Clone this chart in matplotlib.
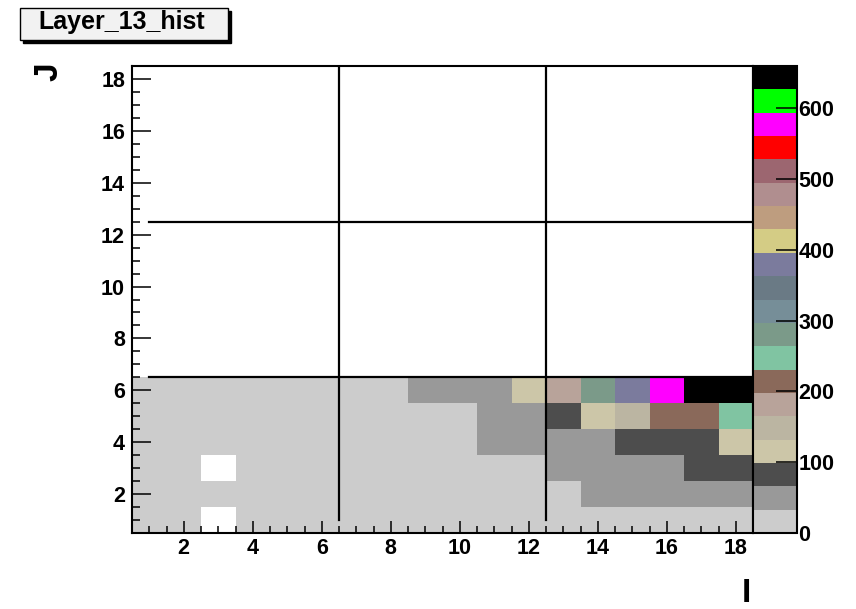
import numpy as np
import matplotlib.pyplot as plt
from matplotlib.colors import ListedColormap, BoundaryNorm
from matplotlib.patches import Rectangle
from matplotlib.ticker import MultipleLocator

plt.rcParams['font.family'] = ['Liberation Sans', 'DejaVu Sans']
plt.rcParams['font.weight'] = 'bold'

# bin contents, one list per J row (I = 1..18); rows 7..18 are empty
row_j1 = [18, 21, 0, 19, 22, 20, 17, 23, 24, 25, 26, 27, 28, 29, 30, 30, 31, 32]
row_j2 = [16, 19, 22, 20, 21, 23, 24, 25, 27, 28, 29, 30, 31, 36, 38, 40, 45, 50]
row_j3 = [17, 20, 0, 22, 23, 24, 25, 26, 27, 28, 30, 32, 40, 45, 52, 60, 75, 85]
row_j4 = [18, 20, 21, 23, 24, 25, 26, 28, 29, 31, 34, 37, 44, 50, 70, 80, 95, 120]
row_j5 = [19, 21, 22, 24, 25, 27, 28, 29, 30, 32, 36, 42, 78, 110, 150, 205, 220, 250]
row_j6 = [20, 22, 24, 25, 26, 28, 30, 31, 35, 40, 55, 112, 180, 280, 375, 580, 640, 659]

z_max = 659.6
cb_ticks = [0, 100, 200, 300, 400, 500, 600]

# old ROOT palette, 20 contour levels (bottom to top)
palette = ['#cccccc', '#999999', '#4d4d4d', '#ccc6a8', '#bbb5a2', '#b8a39a',
           '#8a695a', '#80c4a2', '#7b9a89', '#768e98', '#6a7a85', '#7b7b9d',
           '#d4cc85', '#be9d7f', '#b08e8f', '#9c6670', '#ff0000', '#ff00ff',
           '#00ff00', '#000000']

n = 18
z = np.zeros((n, n))
z[:6, :] = [row_j1, row_j2, row_j3, row_j4, row_j5, row_j6]
z = np.ma.masked_equal(z, 0)
edges = np.arange(0.5, n + 1, 1)

cmap = ListedColormap(palette)
norm = BoundaryNorm(np.linspace(0, z_max, len(palette) + 1), len(palette))

fig = plt.figure(figsize=(8.56, 6.09), dpi=100)
ax = fig.add_axes([132 / 856, 76 / 609, 621 / 856, 467 / 609])
cax = fig.add_axes([753 / 856, 76 / 609, 44 / 856, 467 / 609])

mesh = ax.pcolormesh(edges, edges, z, cmap=cmap, norm=norm)
ax.set_xlim(0.5, 18.5)
ax.set_ylim(0.5, 18.5)

# module boundaries
for v in [6.5, 12.5]:
    ax.plot([v, v], [1, 18.5], color='black', lw=1.6)
    ax.plot([1, 18.5], [v, v], color='black', lw=1.6)

ax.xaxis.set_major_locator(MultipleLocator(2))
ax.xaxis.set_minor_locator(MultipleLocator(0.5))
ax.yaxis.set_major_locator(MultipleLocator(2))
ax.yaxis.set_minor_locator(MultipleLocator(0.5))
ax.tick_params(which='both', direction='in', top=False, right=False, width=1.1,
               labelsize=15.5)
ax.tick_params(axis='x', which='major', length=9, pad=3.5)
ax.tick_params(axis='x', which='minor', length=5)
ax.tick_params(axis='y', which='major', length=14, pad=5)
ax.tick_params(axis='y', which='minor', length=5.5)
for s in ax.spines.values():
    s.set_linewidth(1.5)

cb = fig.colorbar(mesh, cax=cax, ticks=cb_ticks)
cb.outline.set_linewidth(1.5)
cax.minorticks_off()
cax.tick_params(direction='in', length=15, width=1.1, pad=1, labelsize=15.5)

# axis titles, ROOT style at the axis ends
fig.text(746 / 856, 1 - 593 / 609, 'I', fontsize=24, ha='center', va='center')
fig.text(49 / 856, 1 - 72 / 609, 'J', fontsize=24, rotation=90,
         ha='center', va='center')

# title box with shadow
fig.patches.append(Rectangle((23 / 856, 1 - 43 / 609), 208 / 856, 32 / 609,
                             transform=fig.transFigure, color='black'))
fig.patches.append(Rectangle((20 / 856, 1 - 40 / 609), 208 / 856, 32 / 609,
                             transform=fig.transFigure, facecolor='#f2f2f2',
                             edgecolor='black', lw=1))
fig.text(122 / 856, 1 - 29.5 / 609, 'Layer_13_hist', fontsize=18,
         ha='center', va='baseline')

fig.savefig('out.png', dpi=100)
